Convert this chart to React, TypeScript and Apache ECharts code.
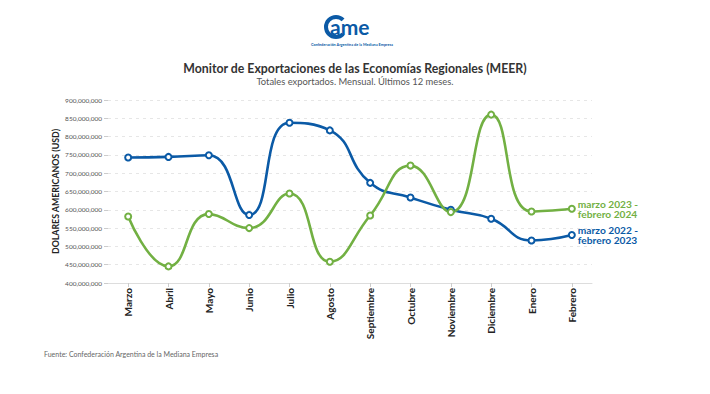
import React, { useEffect, useRef } from "react";
import * as echarts from "echarts";

const months = ["Marzo", "Abril", "Mayo", "Junio", "Julio", "Agosto", "Septiembre", "Octubre", "Noviembre", "Diciembre", "Enero", "Febrero"];
const series2223 = [742.7e6, 744.5e6, 749e6, 585.6e6, 838e6, 817e6, 673.6e6, 633.6e6, 600e6, 575.5e6, 516.3e6, 531e6];
const series2324 = [581.8e6, 445.4e6, 588.3e6, 550e6, 644.5e6, 458e6, 584.5e6, 720.8e6, 593.7e6, 860e6, 595.4e6, 602.7e6];
const label2223 = "marzo 2022 -\nfebrero 2023";
const label2324 = "marzo 2023 -\nfebrero 2024";

const BLUE = "#0b5aa6";
const GREEN = "#72b043";
const FONT = "Lato, 'Open Sans', sans-serif";

export default function App() {
  const ref = useRef<HTMLDivElement>(null);
  useEffect(() => {
    if (!ref.current) return;
    const chart = echarts.init(ref.current, undefined, { renderer: "svg" });
    const mkSeries = (name: string, data: number[], color: string, label: string) => ({
      name,
      type: "line",
      data,
      smooth: 0.5,
      symbol: "circle",
      symbolSize: 6,
      showSymbol: true,
      lineStyle: { color, width: 2.6 },
      itemStyle: { color: "#fff", borderColor: color, borderWidth: 2 },
      endLabel: {
        show: true,
        formatter: () => label,
        color,
        fontFamily: FONT,
        fontWeight: "bold",
        fontSize: 10.2,
        lineHeight: 10.5,
        distance: 6,
      },
      z: 3,
    });
    chart.setOption({
      animation: false,
      backgroundColor: "#fff",
      textStyle: { fontFamily: FONT },
      title: [
        {
          text: "Monitor de Exportaciones de las Economías Regionales (MEER)",
          subtext: "Totales exportados. Mensual. Últimos 12 meses.",
          left: "center",
          top: 57,
          itemGap: 3,
          textStyle: { fontFamily: FONT, fontWeight: "bold", fontSize: 12.3, color: "#333" },
          subtextStyle: { fontFamily: FONT, fontSize: 9.4, color: "#555" },
        },
      ],
      graphic: [
        {
          type: "sector",
          shape: { cx: 336, cy: 27, r: 12, r0: 8, startAngle: Math.PI * 0.25, endAngle: Math.PI * 1.75, clockwise: true },
          style: { fill: BLUE },
        },
        {
          type: "text",
          x: 330,
          y: 16,
          style: { text: "ame", fill: BLUE, font: "bold 21px " + FONT },
        },
        {
          type: "text",
          x: 352,
          y: 42,
          style: { text: "Confederación Argentina de la Mediana Empresa", fill: BLUE, font: "bold 3.8px " + FONT, align: "center" },
        },
        {
          type: "text",
          x: 44,
          y: 350,
          style: { text: "Fuente: Confederación Argentina de la Mediana Empresa", fill: "#666", font: "7px " + FONT },
        },
      ],
      grid: { left: 108, right: 118, top: 100, bottom: 111, containLabel: false },
      xAxis: {
        type: "category",
        data: months,
        boundaryGap: true,
        axisLine: { lineStyle: { color: "#ddd" } },
        axisTick: { show: true, alignWithLabel: true, length: 4, lineStyle: { color: "#ccc" } },
        axisLabel: { rotate: 90, fontWeight: "bold", fontSize: 10, color: "#222", fontFamily: FONT, margin: 5, interval: 0 },
        splitLine: { show: false },
      },
      yAxis: {
        type: "value",
        min: 400e6,
        max: 900e6,
        interval: 50e6,
        name: "DOLARES AMERICANOS (USD)",
        nameLocation: "middle",
        nameGap: 48,
        nameMoveOverlap: false,
        nameRotate: 90,
        nameTextStyle: { fontWeight: "bold", fontSize: 8.8, color: "#222", fontFamily: FONT },
        axisLine: { show: false },
        axisTick: { show: true, length: 4, lineStyle: { color: "#ccc" } },
        axisLabel: {
          fontSize: 6.5,
          color: "#555",
          margin: 6,
          fontFamily: FONT,
          formatter: (v: number) => v.toLocaleString("en-US"),
        },
        splitLine: { show: true, lineStyle: { color: "#e6e6e6", type: [3, 4] } },
      },
      series: [
        mkSeries("2022-2023", series2223, BLUE, label2223),
        mkSeries("2023-2024", series2324, GREEN, label2324),
      ],
    });
    return () => chart.dispose();
  }, []);
  return <div ref={ref} style={{ position: "fixed", left: 0, top: 0, width: 710, height: 394 }} />;
}
